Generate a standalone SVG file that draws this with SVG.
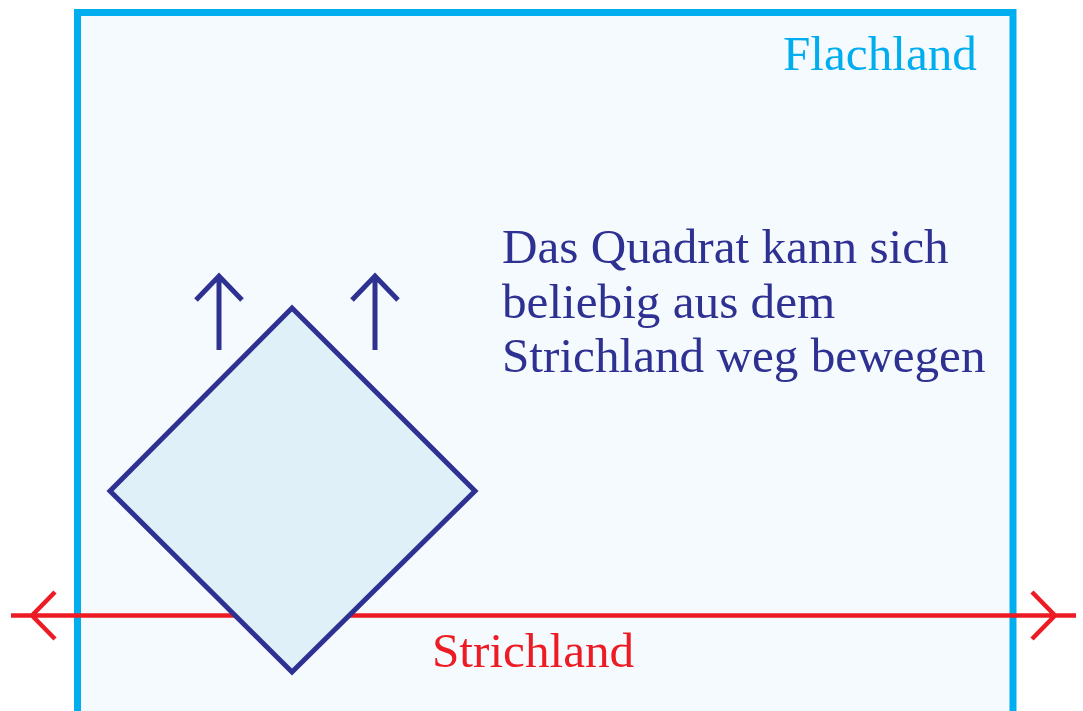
<svg xmlns="http://www.w3.org/2000/svg" width="1083" height="711" viewBox="0 0 1083 711">
<style>
.txt{font-family:"Liberation Serif","Times New Roman",serif;font-size:49.2px}
.blue{fill:#2e3192}
.red{stroke:#ed1c24;stroke-width:4.5;fill:none}
.navy{stroke:#2e3192;stroke-width:5;fill:none}
</style>
<rect width="1083" height="711" fill="#ffffff"/>
<g id="flachland">
<rect x="77.5" y="12.5" width="935.5" height="710" fill="#f5fafe" stroke="#00aeef" stroke-width="7"/>
<text class="txt" x="783" y="70" fill="#00aeef">Flachland</text>
</g>
<g id="connectors">
<path class="red" d="M11 615.5H1076M55 592L32 615.5L55 639M1032 592L1055 615.5L1032 639"/>
<path class="navy" d="M219 350V275M196 300L219 276L242 300M375 350V275M352 300L375 276L398 300"/>
</g>
<g id="quadrat">
<polygon points="292,308 475,491 292,672 110,491" fill="#dff0f8" stroke="#2e3192" stroke-width="5"/>
</g>
<g id="label">
<text class="txt blue" x="502" y="263">Das Quadrat kann sich</text>
<text class="txt blue" x="502" y="318">beliebig aus dem</text>
<text class="txt blue" x="502" y="372">Strichland weg bewegen</text>
</g>
<g id="strichland">
<text class="txt" x="432" y="667" fill="#ed1c24">Strichland</text>
</g>
</svg>
